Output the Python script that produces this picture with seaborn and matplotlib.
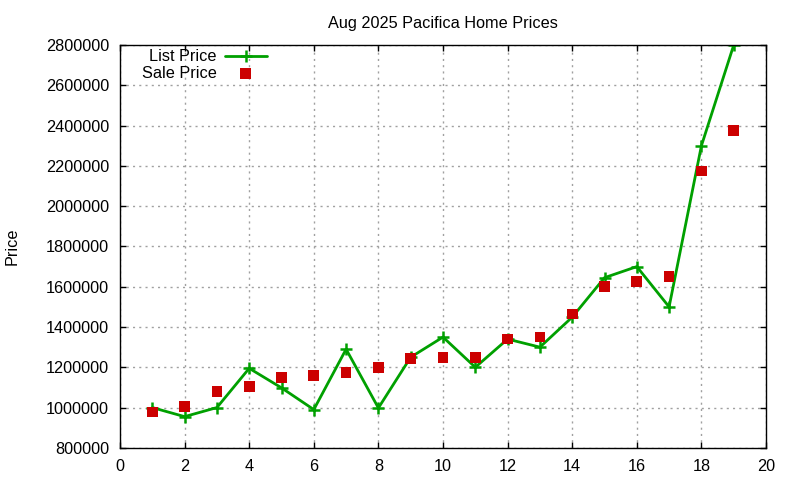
import matplotlib
matplotlib.use("Agg")
import matplotlib.pyplot as plt
import seaborn as sns
import pandas as pd

# Data
months = list(range(1, 20))
list_price = [1000000, 955000, 1000000, 1195000, 1098000, 990000, 1290000, 998000,
              1250000, 1350000, 1200000, 1340000, 1300000, 1449000, 1645000, 1700000,
              1500000, 2300000, 2800000]
sale_price = [978000, 1005000, 1080000, 1105000, 1150000, 1160000, 1175000, 1200000,
              1245000, 1250000, 1250000, 1340000, 1350000, 1465000, 1600000, 1625000,
              1650000, 2175000, 2375000]
x_ticks = list(range(0, 21, 2))
y_ticks = list(range(800000, 2800001, 200000))

df = pd.DataFrame({"Sale": months, "List Price": list_price, "Sale Price": sale_price})

sns.set_style("ticks")
plt.rcParams["font.family"] = ["Liberation Sans", "DejaVu Sans"]
plt.rcParams.update({
    "text.color": "black",
    "axes.labelcolor": "black",
    "xtick.color": "black",
    "ytick.color": "black",
    "xtick.direction": "in",
    "ytick.direction": "in",
    "xtick.top": True,
    "ytick.right": True,
    "xtick.major.size": 4,
    "ytick.major.size": 4,
})

FS = 11.7

fig, ax = plt.subplots(figsize=(8, 4.8), dpi=100)
fig.subplots_adjust(left=0.15, right=0.9575, top=0.906, bottom=0.067)

sns.lineplot(data=df, x="Sale", y="List Price", ax=ax, color="#00a000", linewidth=2,
             marker="+", markersize=9, markeredgewidth=1.8, markeredgecolor="#00a000",
             label="List Price")
sns.scatterplot(data=df, x="Sale", y="Sale Price", ax=ax, color="#cc0000", marker="s",
                s=60, edgecolor="none", linewidth=0, label="Sale Price", zorder=3)

ax.set_xlim(0, 20)
ax.set_ylim(800000, 2800000)
ax.set_xticks(x_ticks)
ax.set_yticks(y_ticks)
ax.ticklabel_format(axis="y", style="plain", useOffset=False)
ax.tick_params(labelsize=FS, width=1, pad=8)
ax.grid(True, linestyle=(0, (1.5, 3)), color="#a0a0a0", linewidth=1)
for s in ax.spines.values():
    s.set_color("black")
    s.set_linewidth(1)

ax.set_title("Aug 2025 Pacifica Home Prices", fontsize=FS, pad=12)
ax.set_xlabel("")
ax.set_ylabel("Price", fontsize=FS, labelpad=19)

ax.legend(loc="upper right", bbox_to_anchor=(0.2376, 1.006), frameon=False,
          markerfirst=False, fontsize=FS, handlelength=2.6, labelspacing=0.1,
          borderaxespad=0.0, handletextpad=0.5)

fig.savefig("out.png", dpi=100, facecolor="white")
